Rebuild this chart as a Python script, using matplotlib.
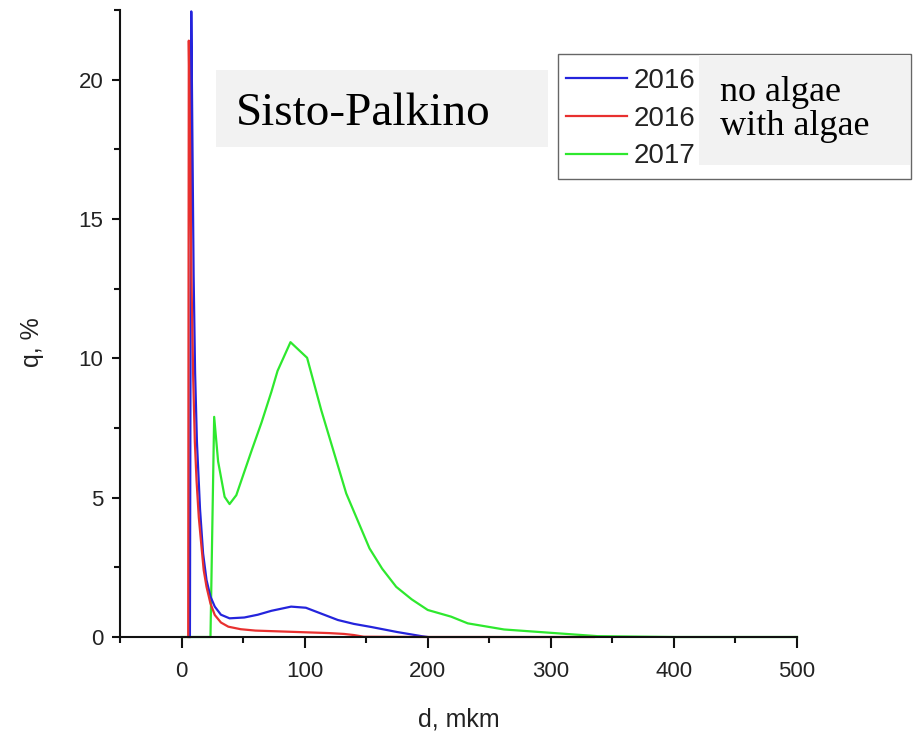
import matplotlib
matplotlib.use("Agg")
import matplotlib.pyplot as plt
from matplotlib.lines import Line2D
from matplotlib.patches import Rectangle

plt.rcParams["font.family"] = ["Liberation Sans", "DejaVu Sans"]

# Distribuicao granulometrica, Sisto-Palkino
d_2016_sem = [6.8, 7.9, 9.0, 9.8, 11.0, 12.5, 15.0, 17.5, 20.3, 23.5, 27, 32, 39, 51,
              62, 73, 89, 101, 114, 127, 140, 154, 175, 195, 200]
q_2016_sem = [0, 22.45, 17.0, 13.0, 9.5, 7.0, 4.6, 3.0, 2.04, 1.45, 1.09, 0.80, 0.67, 0.70,
              0.80, 0.94, 1.09, 1.05, 0.83, 0.61, 0.47, 0.36, 0.18, 0.03, 0]

d_2016_com = [5.4, 5.9, 7.0, 8.0, 9.5, 10.8, 12.2, 14.0, 16.2, 18.0, 20.3, 23.5, 27, 32,
              38, 48, 60, 80, 100, 120, 132, 140, 148, 200, 250, 300, 335]
q_2016_com = [0, 21.4, 17.5, 13.0, 9.2, 7.0, 5.6, 4.3, 3.24, 2.4, 1.80, 1.2, 0.79, 0.52,
              0.37, 0.28, 0.23, 0.20, 0.17, 0.14, 0.11, 0.07, 0.01, 0, 0, 0, 0]

d_2017 = [0, 23.5, 26.5, 29.7, 35, 39, 44.5, 50, 57, 65, 73, 78, 88.5, 102, 113.5, 133.8,
          152.7, 163, 174.4, 187, 200, 219, 232.5, 262, 300, 338, 400, 500]
q_2017 = [0, 0, 7.9, 6.3, 5.03, 4.77, 5.09, 5.8, 6.7, 7.7, 8.8, 9.55, 10.58, 10.02, 8.14, 5.15,
          3.18, 2.45, 1.80, 1.35, 0.97, 0.73, 0.49, 0.27, 0.15, 0.03, 0, 0]

rotulos = ["2016", "2016", "2017"]
cores = ["#2424dc", "#e8302f", "#2ee82e"]

W, H = 913, 740


def fx(x):
    return x / W


def fy(y):
    return 1 - y / H


fig = plt.figure(figsize=(W / 100, H / 100), dpi=100)
ax = fig.add_axes([fx(120), fy(637), (797 - 120) / W, (637 - 10) / H])

ax.plot(d_2017, q_2017, color=cores[2], lw=1.6, clip_on=False)
ax.plot(d_2016_sem, q_2016_sem, color=cores[0], lw=1.6, clip_on=False)
ax.plot(d_2016_com, q_2016_com, color=cores[1], lw=1.6, clip_on=False)

ax.set_xlim(-50, 500)
ax.set_ylim(0, 22.5)
ax.set_xticks(range(0, 501, 100))
ax.set_xticks(range(-50, 451, 100), minor=True)
ax.set_yticks([0, 5, 10, 15, 20])
ax.set_yticks([2.5, 7.5, 12.5, 17.5, 22.5], minor=True)

for lado in ["top", "right"]:
    ax.spines[lado].set_visible(False)
for lado in ["left", "bottom"]:
    ax.spines[lado].set_linewidth(1.5)
    ax.spines[lado].set_color("#111111")

ax.tick_params(which="major", direction="out", length=6, width=1.5,
               labelsize=16, labelcolor="#222222", color="#111111", pad=6)
ax.tick_params(which="minor", direction="out", length=4, width=1.5, color="#111111")
ax.tick_params(axis="x", which="major", length=8, pad=9)

ax.set_xlabel("d, mkm", fontsize=18, color="#222222")
ax.xaxis.set_label_coords(0.5, (637 - 708) / 627)
ax.set_ylabel("q, %", fontsize=18, color="#222222")
ax.yaxis.set_label_coords((44 - 120) / 677, (637 - 342) / 627)

# caixa do titulo
fig.patches.append(Rectangle((fx(216), fy(147)), (548 - 216) / W, (147 - 70) / H,
                             transform=fig.transFigure, facecolor="#f2f2f2",
                             edgecolor="none", zorder=1))
fig.text(fx(236), fy(125), "Sisto-Palkino", family="Liberation Serif", fontsize=34,
         va="baseline", ha="left", zorder=2)

# moldura da legenda e caixa cinza
fig.patches.append(Rectangle((fx(558), fy(179)), (911 - 558) / W, (179 - 54) / H,
                             transform=fig.transFigure, facecolor="white",
                             edgecolor="#666666", lw=1.0, zorder=1))
fig.patches.append(Rectangle((fx(699), fy(165)), (910 - 699) / W, (165 - 55) / H,
                             transform=fig.transFigure, facecolor="#f2f2f2",
                             edgecolor="none", zorder=1.5))
fig.text(fx(720), fy(101), "no algae", family="Liberation Serif", fontsize=26,
         va="baseline", zorder=2)
fig.text(fx(720), fy(135), "with algae", family="Liberation Serif", fontsize=26,
         va="baseline", zorder=2)

alcas = [Line2D([], [], color=c, lw=1.6) for c in cores]
leg = fig.legend(alcas, rotulos, loc="upper left",
                 bbox_to_anchor=(fx(566), fy(68)), bbox_transform=fig.transFigure,
                 frameon=False, borderpad=0, borderaxespad=0, fontsize=20,
                 handlelength=2.2, handletextpad=0.22, labelspacing=0.42)
for t in leg.get_texts():
    t.set_color("#222222")
leg.set_zorder(3)

fig.savefig("out.png", dpi=100)
